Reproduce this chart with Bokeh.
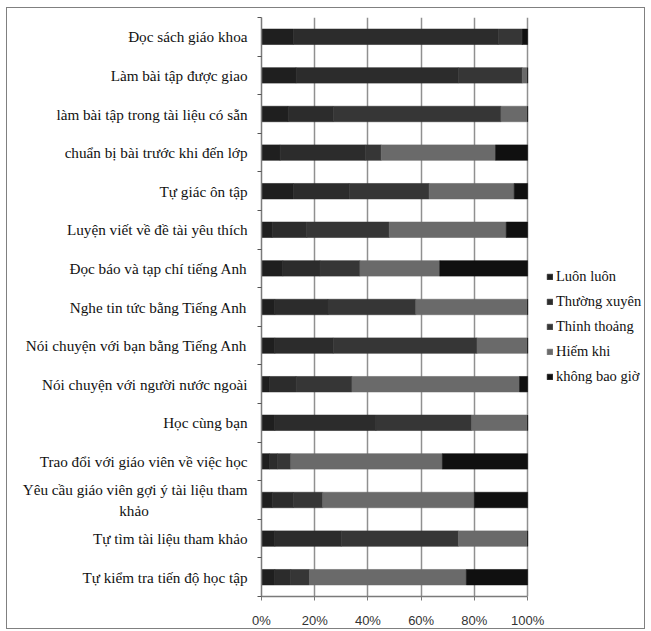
from bokeh.plotting import figure
from bokeh.models import ColumnDataSource, Range1d, FixedTicker, Legend, LegendItem
from bokeh.embed import file_html
from bokeh.resources import INLINE

# Activities, listed top to bottom
categories = [
    "Đọc sách giáo khoa",
    "Làm bài tập được giao",
    "làm bài tập trong tài liệu có sẵn",
    "chuẩn bị bài trước khi đến lớp",
    "Tự giác ôn tập",
    "Luyện viết về đề tài yêu thích",
    "Đọc báo và tạp chí tiếng Anh",
    "Nghe tin tức bằng Tiếng Anh",
    "Nói chuyện với bạn bằng Tiếng Anh",
    "Nói chuyện với người nước ngoài",
    "Học cùng bạn",
    "Trao đổi với giáo viên về việc học",
    "Yêu cầu giáo viên gợi ý tài liệu tham\nkhảo" + "\u00a0" * 26,
    "Tự tìm tài liệu tham khảo",
    "Tự kiểm tra tiến độ học tập",
]

series = ["Luôn luôn", "Thường xuyên", "Thỉnh thoảng", "Hiếm khi", "không bao giờ"]

# Percentages per frequency level
luon_luon     = [12, 13, 10,  7, 12,  4,  8,  5,  5,  3,  5,  3,  4,  5,  5]
thuong_xuyen  = [77, 61, 17, 32, 21, 13, 14, 20, 22, 10, 38,  3,  8, 25,  6]
thinh_thoang  = [ 9, 24, 63,  6, 30, 31, 15, 33, 54, 21, 36,  5, 11, 44,  7]
hiem_khi      = [ 0,  2, 10, 43, 32, 44, 30, 42, 19, 63, 21, 57, 57, 26, 59]
khong_bao_gio = [ 2,  0,  0, 12,  5,  8, 33,  0,  0,  3,  0, 32, 20,  0, 23]

x_ticks = [0, 20, 40, 60, 80, 100]
x_tick_labels = ["0%", "20%", "40%", "60%", "80%", "100%"]

colors = ["#1f1f1f", "#2c2c2c", "#363636", "#6a6a6a", "#101010"]

n = len(categories)
centers = [i + 0.5 for i in range(n)]
bounds = [float(i) for i in range(n + 1)]

source = ColumnDataSource(data={
    "y": centers,
    series[0]: luon_luon,
    series[1]: thuong_xuyen,
    series[2]: thinh_thoang,
    series[3]: hiem_khi,
    series[4]: khong_bao_gio,
})

# The frame runs past 100% so the legend can sit to the right of the bars;
# the axis and grid stop at 100%.
p = figure(
    width=639, height=622,
    x_range=Range1d(0, 144.7), y_range=Range1d(n, 0),
    output_backend="svg", toolbar_location=None,
    min_border_left=254, min_border_right=0,
    min_border_top=9, min_border_bottom=32,
)
p.margin = (7, 0, 0, 6)
p.styles = {"border": "1px solid #808080"}
p.outline_line_color = None
p.background_fill_color = "white"
p.border_fill_color = "white"

# Segment outlines share the fill colour so adjacent segments meet without seams
renderers = p.hbar_stack(series, y="y", height=0.4, fill_color=colors,
                         line_color=colors, line_width=0.6, source=source)

# Category axis: labels at band centres, small ticks at band edges
yax = p.yaxis[0]
yax.ticker = FixedTicker(ticks=centers, minor_ticks=bounds)
yax.major_label_overrides = {c: lab for c, lab in zip(centers, categories)}
yax.major_tick_out = 0
yax.major_tick_in = 0
yax.minor_tick_out = 4
yax.minor_tick_in = 0
yax.minor_tick_line_color = "#555555"
yax.axis_line_color = "#7a7a7a"
yax.axis_line_width = 1.5
yax.major_label_standoff = 10
yax.major_label_text_font = "Liberation Serif"
yax.major_label_text_font_size = "15.2px"
yax.major_label_text_color = "#111111"

xax = p.xaxis[0]
xax.bounds = (0, 100)
xax.ticker = FixedTicker(ticks=x_ticks)
xax.major_label_overrides = {t: lab for t, lab in zip(x_ticks, x_tick_labels)}
xax.minor_tick_line_color = None
xax.major_tick_out = 4
xax.major_tick_in = 0
xax.major_tick_line_color = "#7a7a7a"
xax.axis_line_color = "#7a7a7a"
xax.axis_line_width = 1.5
xax.major_label_standoff = 12
xax.major_label_text_font = "Liberation Sans"
xax.major_label_text_font_size = "13px"
xax.major_label_text_color = "#333333"

p.ygrid.visible = False
p.xgrid.ticker = FixedTicker(ticks=x_ticks)
p.xgrid.grid_line_color = "#909090"
p.xgrid.grid_line_width = 1.5

legend = Legend(
    items=[LegendItem(label=s, renderers=[r]) for s, r in zip(series, renderers)],
    location=(285, 210),
    glyph_width=7, glyph_height=7,
    label_height=20, spacing=5,
    label_standoff=3,
    padding=0, margin=0,
    border_line_color=None, background_fill_alpha=0,
    label_text_font="Liberation Serif",
    label_text_font_size="14.5px",
    label_text_color="#111111",
)
p.add_layout(legend)

open("out.html", "w").write(file_html(p, INLINE))
